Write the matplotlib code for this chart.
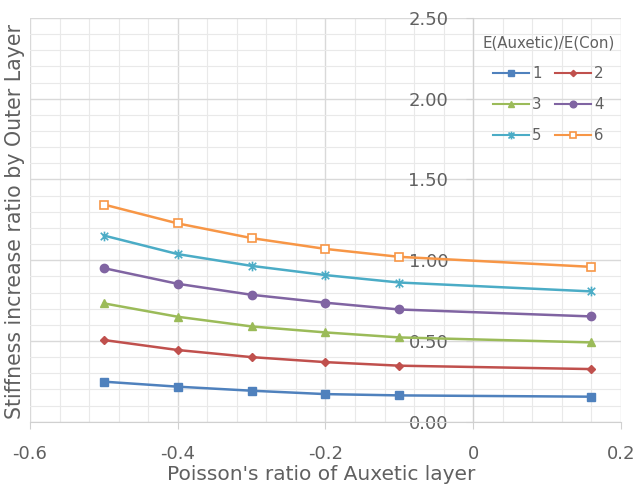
import matplotlib
matplotlib.use("Agg")
import matplotlib.pyplot as plt
from matplotlib.ticker import MultipleLocator, FixedLocator
from matplotlib.path import Path

x_vals = [-0.5, -0.4, -0.3, -0.2, -0.1, 0.16]
s1 = [0.248, 0.217, 0.192, 0.171, 0.163, 0.155]
s2 = [0.506, 0.444, 0.400, 0.369, 0.347, 0.326]
s3 = [0.733, 0.650, 0.590, 0.553, 0.522, 0.491]
s4 = [0.951, 0.854, 0.786, 0.737, 0.695, 0.652]
s5 = [1.153, 1.038, 0.965, 0.908, 0.862, 0.807]
s6 = [1.345, 1.228, 1.137, 1.070, 1.021, 0.959]
labels = ["1", "2", "3", "4", "5", "6"]
series = [s1, s2, s3, s4, s5, s6]
x_ticks = [-0.6, -0.4, -0.2, 0, 0.2]
x_ticklabels = ["-0.6", "-0.4", "-0.2", "0", "0.2"]
y_ticks = [0.0, 0.5, 1.0, 1.5, 2.0, 2.5]

colors = ["#4F81BD", "#C0504D", "#9BBB59", "#8064A2", "#4BACC6", "#F79646"]
star = Path([(-1, -1), (1, 1), (-1, 1), (1, -1), (0, -1.3), (0, 1.3)],
            [Path.MOVETO, Path.LINETO, Path.MOVETO, Path.LINETO, Path.MOVETO, Path.LINETO])
markers = ["s", "D", "^", "o", star, "s"]
msizes = [6, 4, 6, 6, 7, 6]

plt.rcParams['font.family'] = ['DejaVu Sans']
txt = "#606060"

fig = plt.figure(figsize=(6.34, 4.91), dpi=100)
ax = fig.add_axes([0.0473, 0.1411, 0.9322, 0.8222])

handles = []
for i, (ys, lab) in enumerate(zip(series, labels)):
    face = "white" if i == 5 else colors[i]
    h, = ax.plot(x_vals, ys, color=colors[i], lw=1.8, marker=markers[i], ms=msizes[i],
                 mfc=face, mec=colors[i], mew=1.2 if i in (4, 5) else 1, label=lab, zorder=3)
    handles.append(h)

ax.set_xlim(-0.6, 0.2)
ax.set_ylim(0, 2.5)
ax.xaxis.set_major_locator(FixedLocator(x_ticks))
ax.set_xticklabels(x_ticklabels)
ax.xaxis.set_minor_locator(MultipleLocator(0.04))
ax.yaxis.set_major_locator(FixedLocator(y_ticks))
ax.yaxis.set_minor_locator(MultipleLocator(0.1))
ax.set_yticklabels([f"{v:.2f}" for v in y_ticks])

ax.grid(which="major", color="#d9d9d9", lw=1.0, zorder=0)
ax.grid(which="minor", color="#e9e9e9", lw=0.8, zorder=0)
ax.set_axisbelow(True)

for s in ["top", "right"]:
    ax.spines[s].set_visible(False)
ax.spines["bottom"].set_color("#d0d0d0")
ax.spines["left"].set_position(("data", 0))
ax.spines["left"].set_color("#d0d0d0")

ax.tick_params(axis="x", which="major", length=5, color="#d0d0d0", pad=12, labelsize=13, labelcolor=txt)
ax.tick_params(axis="y", which="major", length=5, color="#d0d0d0", pad=13, labelsize=13, labelcolor=txt)
ax.tick_params(which="minor", length=0)

ax.set_xlabel("Poisson's ratio of Auxetic layer", fontsize=14.5, color=txt)
ax.xaxis.set_label_coords(0.4925, -0.108)
fig.text(0.024, 0.548, "Stiffness increase ratio by Outer Layer", rotation=90,
         ha="center", va="center", fontsize=14.8, color=txt)

order = [0, 2, 4, 1, 3, 5]
leg = ax.legend([handles[k] for k in order], [labels[k] for k in order],
                title="E(Auxetic)/E(Con)", ncol=2, loc="upper right",
                bbox_to_anchor=(1.012, 0.99), frameon=False, fontsize=10.8,
                title_fontsize=10.8, handlelength=2.4, columnspacing=0.9,
                handletextpad=0.2, labelspacing=1.05, markerscale=0.8)
for t in leg.get_texts():
    t.set_color(txt)
leg.get_title().set_color(txt)
for l in leg.get_lines():
    l.set_linewidth(1.5)

fig.savefig("out.png", dpi=100)
